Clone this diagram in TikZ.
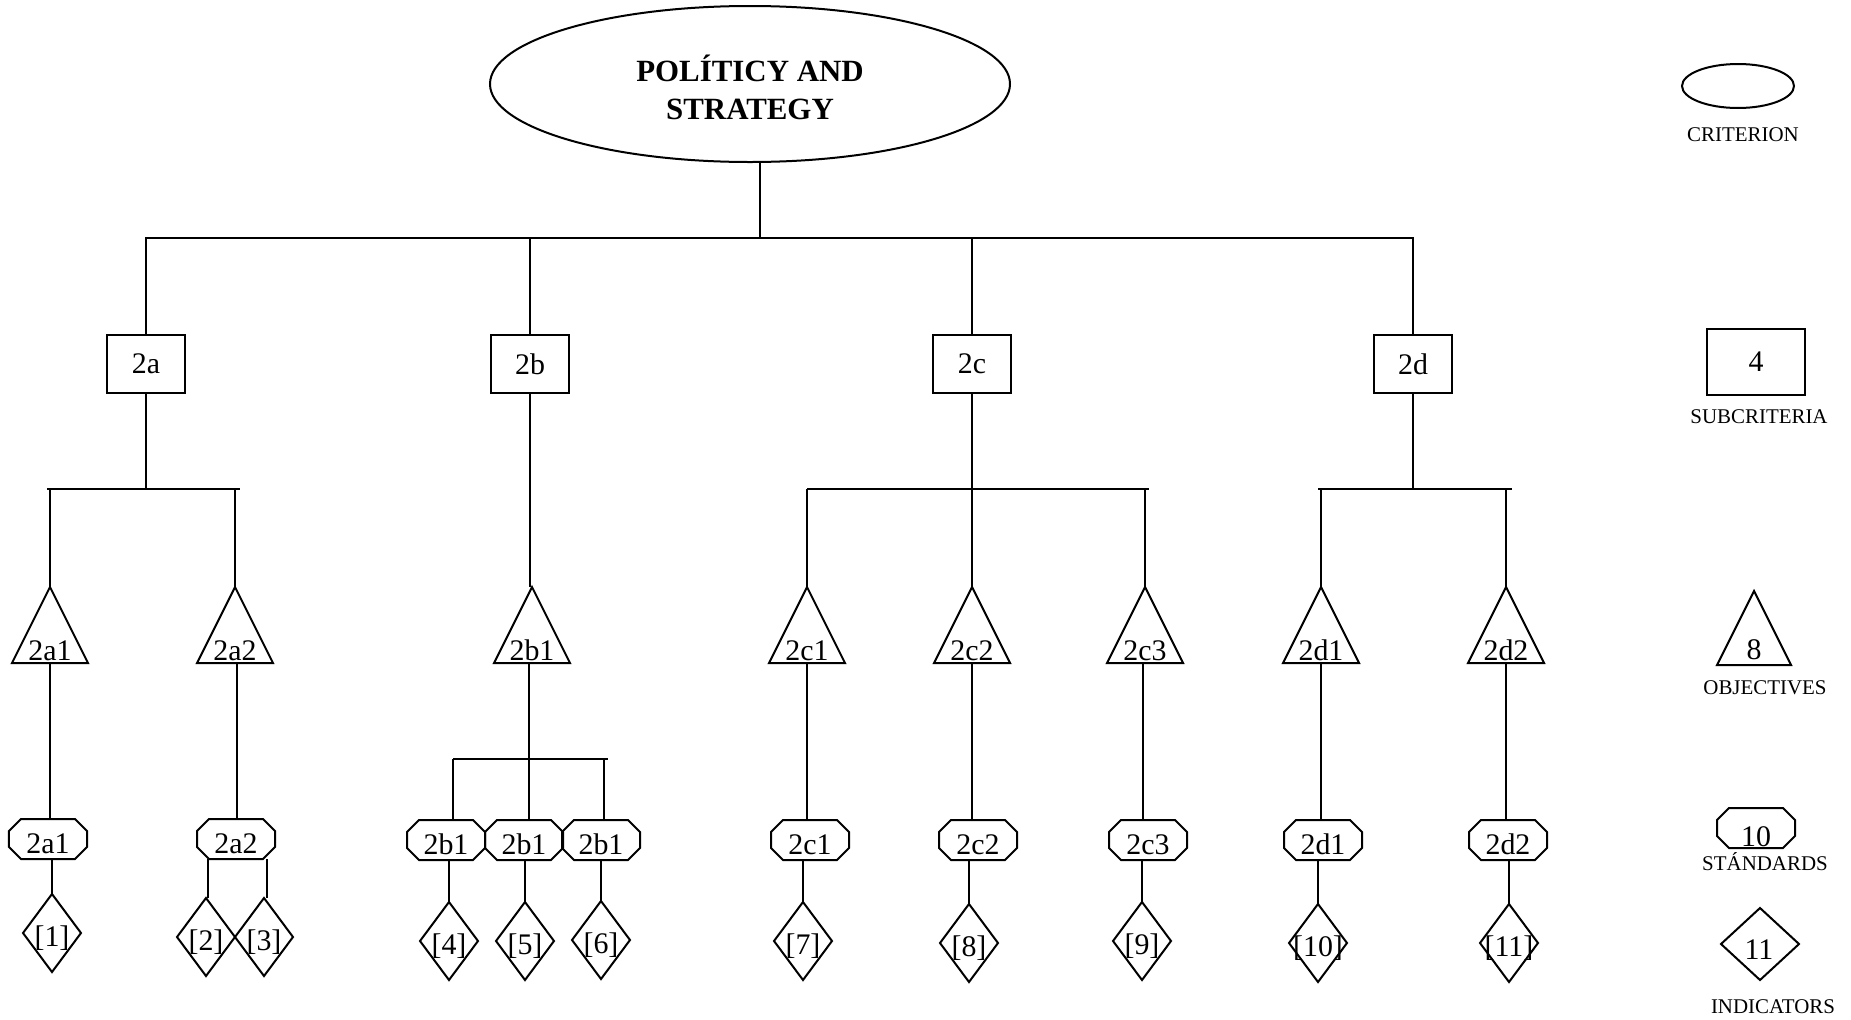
\documentclass[tikz,border=0pt]{standalone}
\usepackage{fontspec}
\setmainfont{Liberation Serif}
\usetikzlibrary{shapes.geometric,calc}

\tikzset{
  ln/.style={line width=2bp},
  shp/.style={line width=2bp, line join=miter},
  hold/.style={draw=none, rectangle, inner sep=0pt, outer sep=0pt},
  lbl/.style={font=\fontsize{30}{34}\selectfont, inner sep=0pt, outer sep=0pt},
  leg/.style={font=\fontsize{21}{24}\selectfont, inner sep=0pt, outer sep=0pt},
  ttl/.style={font=\fontsize{31}{36}\selectfont\bfseries, inner sep=0pt, outer sep=0pt},
  subbox/.style={draw, rectangle, line width=2bp, minimum width=78bp, minimum height=58bp,
    inner sep=0pt, outer sep=0pt, font=\fontsize{30}{34}\selectfont},
}

% objective triangle: name, x, y, label
\newcommand{\ObjTri}[4]{%
  \node[hold, minimum width=76bp, minimum height=76bp] (#1) at (#2,#3) {};
  \draw[shp] (#1.north) -- (#1.south east) -- (#1.south west) -- cycle;
  \node[lbl, anchor=base] (#1-t) at ([yshift=3bp]#1.south) {#4};
}
% standard octagon: name, x, y, label
\newcommand{\StdOct}[4]{%
  \node[hold, minimum width=78bp, minimum height=40bp] (#1) at (#2,#3) {};
  \draw[shp] ([xshift=12bp]#1.north west) -- ([xshift=-12bp]#1.north east)
    -- ([yshift=-12bp]#1.north east) -- ([yshift=12bp]#1.south east)
    -- ([xshift=-12bp]#1.south east) -- ([xshift=12bp]#1.south west)
    -- ([yshift=12bp]#1.south west) -- ([yshift=-12bp]#1.north west) -- cycle;
  \node[lbl, anchor=base] (#1-t) at ([yshift=6bp]#1.south) {#4};
}
% indicator diamond: name, x, y, label
\newcommand{\IndDia}[4]{%
  \node[hold, minimum width=58bp, minimum height=78bp] (#1) at (#2,#3) {};
  \draw[shp] (#1.north) -- (#1.east) -- (#1.south) -- (#1.west) -- cycle;
  \node[lbl] (#1-t) at ([yshift=-5bp]#1.center) {#4};
}

\begin{document}
\begin{tikzpicture}[x=1bp, y=-1bp]
\useasboundingbox (0,0) rectangle (1851,1019);

% ---------- criterion ----------
\node[draw, ellipse, line width=2bp, minimum width=520bp, minimum height=156bp, inner sep=0pt, outer sep=0pt]
  (crit) at (750,84) {};
\node[ttl, anchor=base] (crit-t1) at (750,81) {POLÍTICY AND};
\node[ttl, anchor=base] (crit-t2) at (750,119) {STRATEGY};

% ---------- subcriteria ----------
\node[subbox] (S2a) at (146,364) {2a};
\node[subbox] (S2b) at (530,364) {2b};
\node[subbox] (S2c) at (972,364) {2c};
\node[subbox] (S2d) at (1413,364) {2d};

% ---------- objectives ----------
\ObjTri{T2a1}{50}{625}{2a1}
\ObjTri{T2a2}{235}{625}{2a2}
\ObjTri{T2b1}{532}{625}{2b1}
\ObjTri{T2c1}{807}{625}{2c1}
\ObjTri{T2c2}{972}{625}{2c2}
\ObjTri{T2c3}{1145}{625}{2c3}
\ObjTri{T2d1}{1321}{625}{2d1}
\ObjTri{T2d2}{1506}{625}{2d2}

% ---------- standards ----------
\StdOct{O2a1}{48}{839}{2a1}
\StdOct{O2a2}{236}{839}{2a2}
\StdOct{O2b1a}{446}{840}{2b1}
\StdOct{O2b1b}{524}{840}{2b1}
\StdOct{O2b1c}{601}{840}{2b1}
\StdOct{O2c1}{810}{840}{2c1}
\StdOct{O2c2}{978}{840}{2c2}
\StdOct{O2c3}{1148}{840}{2c3}
\StdOct{O2d1}{1323}{840}{2d1}
\StdOct{O2d2}{1508}{840}{2d2}

% ---------- indicators ----------
\IndDia{D1}{52}{933}{[1]}
\IndDia{D2}{206}{937}{[2]}
\IndDia{D3}{264}{937}{[3]}
\IndDia{D4}{449}{941}{[4]}
\IndDia{D5}{525}{941}{[5]}
\IndDia{D6}{601}{940}{[6]}
\IndDia{D7}{803}{941}{[7]}
\IndDia{D8}{969}{943}{[8]}
\IndDia{D9}{1142}{941}{[9]}
\IndDia{D10}{1318}{943}{[10]}
\IndDia{D11}{1509}{943}{[11]}

% ---------- connectors: criterion to subcriteria ----------
\coordinate (bar0) at (760,238);
\draw[ln] (crit.south -| bar0) -- (bar0);
\draw[ln] (S2a.north) |- (bar0);
\draw[ln] (S2d.north) |- (bar0);
\draw[ln] (S2b.north) -- (S2b.north |- bar0);
\draw[ln] (S2c.north) -- (S2c.north |- bar0);

% ---------- 2a ----------
\coordinate (bar2a) at (146,489);
\draw[ln] (S2a.south) -- (bar2a);
\draw[ln] ($(T2a1.north |- bar2a)+(-3,0)$) -- ($(T2a2.north |- bar2a)+(5,0)$);
\draw[ln] (T2a1.north) -- (T2a1.north |- bar2a);
\draw[ln] (T2a2.north) -- (T2a2.north |- bar2a);
\draw[ln] (T2a1.south) -- (T2a1.south |- O2a1.north);
\draw[ln] ($(T2a2.south)+(2,0)$) -- ($(T2a2.south |- O2a2.north)+(2,0)$);
\draw[ln] (D1.north) -- (D1.north |- O2a1.south);
\draw[ln] ($(D2.north)+(2,0)$) -- ($(D2.north |- O2a2.south)+(2,0)$);
\draw[ln] ($(D3.north)+(3,0)$) -- ($(D3.north |- O2a2.south)+(3,0)$);

% ---------- 2b ----------
\coordinate (bar2b) at (529,759);
\coordinate (v2bL) at (453,759);
\coordinate (v2bR) at (604,759);
\draw[ln] (S2b.south) -- (S2b.south |- T2b1.north);
\draw[ln] (T2b1.south -| bar2b) -- (bar2b);
\draw[ln] (v2bL) -- ($(v2bR)+(4,0)$);
\draw[ln] (v2bL) -- (v2bL |- O2b1a.north);
\draw[ln] (bar2b) -- (bar2b |- O2b1b.north);
\draw[ln] (v2bR) -- (v2bR |- O2b1c.north);
\draw[ln] (D4.north) -- (D4.north |- O2b1a.south);
\draw[ln] (D5.north) -- (D5.north |- O2b1b.south);
\draw[ln] (D6.north) -- (D6.north |- O2b1c.south);

% ---------- 2c ----------
\coordinate (bar2c) at (972,489);
\draw[ln] (S2c.south) -- (bar2c);
\draw[ln] (T2c1.north |- bar2c) -- ($(T2c3.north |- bar2c)+(4,0)$);
\draw[ln] (T2c1.north) -- (T2c1.north |- bar2c);
\draw[ln] (T2c2.north) -- (T2c2.north |- bar2c);
\draw[ln] (T2c3.north) -- (T2c3.north |- bar2c);
\draw[ln] (T2c1.south) -- (T2c1.south |- O2c1.north);
\draw[ln] (T2c2.south) -- (T2c2.south |- O2c2.north);
\draw[ln] ($(T2c3.south)+(-2,0)$) -- ($(T2c3.south |- O2c3.north)+(-2,0)$);
\draw[ln] (D7.north) -- (D7.north |- O2c1.south);
\draw[ln] (D8.north) -- (D8.north |- O2c2.south);
\draw[ln] (D9.north) -- (D9.north |- O2c3.south);

% ---------- 2d ----------
\coordinate (bar2d) at (1413,489);
\draw[ln] (S2d.south) -- (bar2d);
\draw[ln] ($(T2d1.north |- bar2d)+(-3,0)$) -- ($(T2d2.north |- bar2d)+(6,0)$);
\draw[ln] (T2d1.north) -- (T2d1.north |- bar2d);
\draw[ln] (T2d2.north) -- (T2d2.north |- bar2d);
\draw[ln] (T2d1.south) -- (T2d1.south |- O2d1.north);
\draw[ln] (T2d2.south) -- (T2d2.south |- O2d2.north);
\draw[ln] (D10.north) -- (D10.north |- O2d1.south);
\draw[ln] (D11.north) -- (D11.north |- O2d2.south);

% ---------- legend ----------
\node[draw, ellipse, line width=2bp, minimum width=112bp, minimum height=44bp, inner sep=0pt]
  (Lcrit) at (1738,86) {};
\node[leg] (Lcrit-t) at (1743,135) {CRITERION};

\node[draw, rectangle, line width=2bp, minimum width=98bp, minimum height=66bp, inner sep=0pt,
  font=\fontsize{30}{34}\selectfont] (Lsub) at (1756,362) {4};
\node[leg] (Lsub-t) at (1759,417) {SUBCRITERIA};

\node[hold, minimum width=74bp, minimum height=74bp] (Lobj) at (1754,628) {};
\draw[shp] (Lobj.north) -- (Lobj.south east) -- (Lobj.south west) -- cycle;
\node[lbl, anchor=base] (Lobj-t) at ([yshift=6bp]Lobj.south) {8};
\node[leg] (Lobj-l) at (1765,688) {OBJECTIVES};

\node[hold, minimum width=78bp, minimum height=40bp] (Lstd) at (1756,828) {};
\draw[shp] ([xshift=12bp]Lstd.north west) -- ([xshift=-12bp]Lstd.north east)
    -- ([yshift=-12bp]Lstd.north east) -- ([yshift=12bp]Lstd.south east)
    -- ([xshift=-12bp]Lstd.south east) -- ([xshift=12bp]Lstd.south west)
    -- ([yshift=12bp]Lstd.south west) -- ([yshift=-12bp]Lstd.north west) -- cycle;
\node[lbl, anchor=base] (Lstd-t) at ([yshift=2bp]Lstd.south) {10};
\node[leg] (Lstd-l) at (1765,862) {STÁNDARDS};

\node[hold, minimum width=78bp, minimum height=72bp] (Lind) at (1760,944) {};
\draw[shp] (Lind.north) -- (Lind.east) -- (Lind.south) -- (Lind.west) -- cycle;
\node[lbl] (Lind-t) at (1759,950) {11};
\node[leg] (Lind-l) at (1773,1007) {INDICATORS};
\end{tikzpicture}
\end{document}
